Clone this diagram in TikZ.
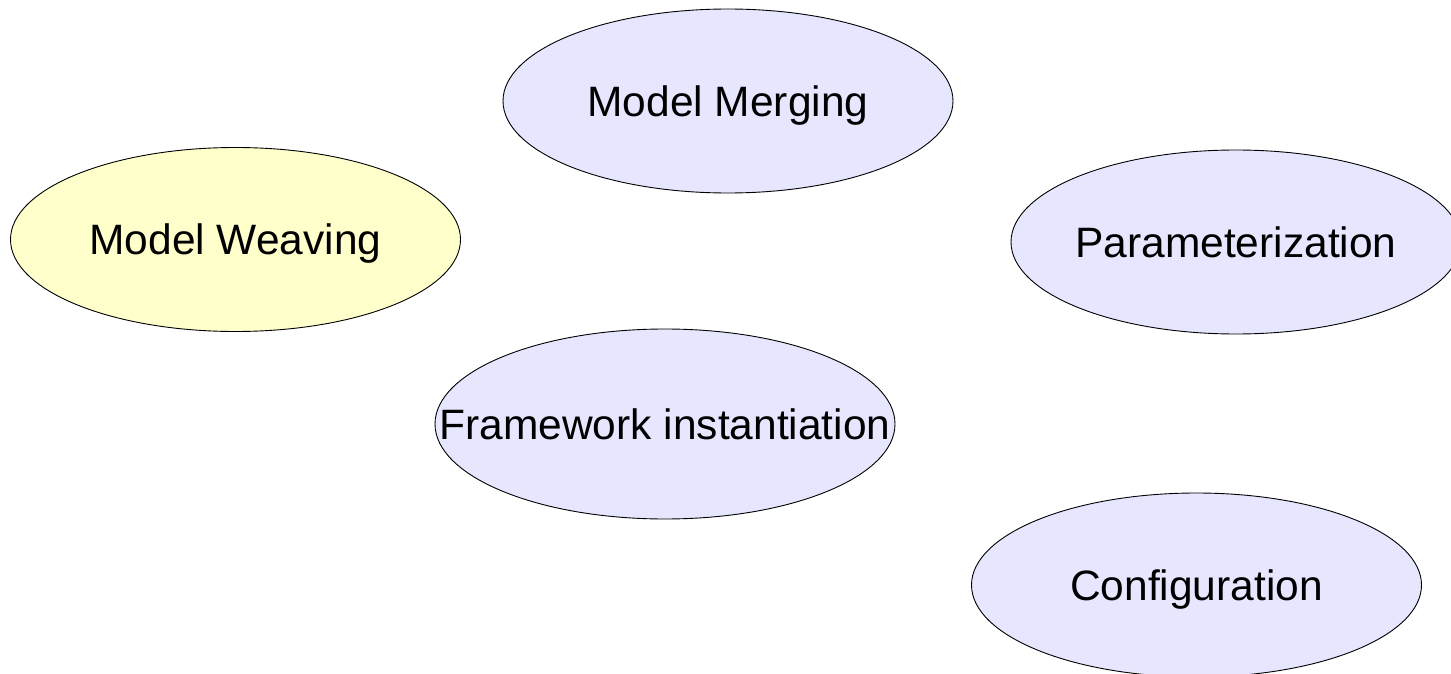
\documentclass[tikz,border=0pt]{standalone}
\usepackage{fontspec}
\setmainfont{Liberation Sans}
\usepackage{tikz}
\usetikzlibrary{shapes.geometric}

\definecolor{topicblue}{RGB}{230,230,255}
\definecolor{topicyellow}{RGB}{255,255,204}

% text of a topic, kept from widening its ellipse
\newcommand{\topictext}[1]{\makebox[0pt]{#1}}

\begin{document}
\begin{tikzpicture}[
    x=1pt, y=-1pt,
    topic/.style={ellipse, draw=black, line width=0.9pt, fill=topicblue,
        inner sep=0pt, minimum width=450pt, minimum height=184pt,
        font=\fontsize{42.5}{50}\selectfont, text height=30.4pt, text depth=0pt},
    woven/.style={topic, fill=topicyellow}
]

% Canvas
\clip (0,0) rectangle (1451,674);

% Topics
\node[topic] (merging) at (728,101) {\topictext{Model Merging}};
\node[woven] (weaving) at (235.5,239.5) {\topictext{Model Weaving}};
\node[topic] (param) at (1236,242) {\topictext{Parameterization}};
\node[topic, minimum width=460pt, minimum height=190pt] (framework) at (665,424) {\topictext{Framework instantiation}};
\node[topic] (config) at (1196.5,585) {\topictext{Configuration}};

\end{tikzpicture}
\end{document}
